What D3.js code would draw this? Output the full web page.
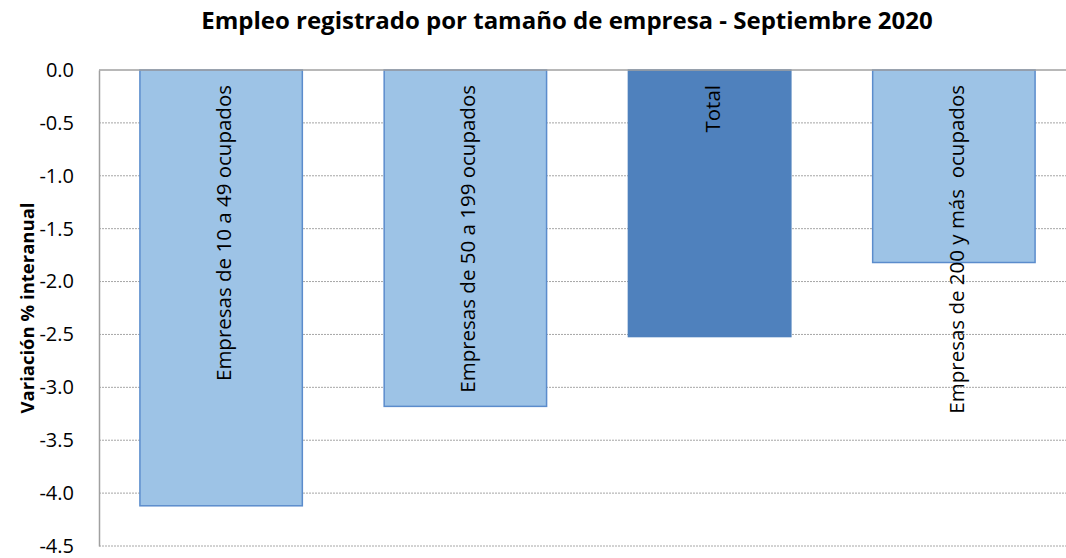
<!DOCTYPE html>
<html lang="es">
<head>
<meta charset="UTF-8">
<title>Empleo registrado por tamaño de empresa</title>
<script src="https://d3js.org/d3.v7.min.js"></script>
<style>
  body { margin: 0; background: #fff; }
  svg { display: block; font-family: "Open Sans", "Noto Sans", sans-serif; }
</style>
</head>
<body>
<script>
// Datos del gráfico
const categorias = ["Empresas de 10 a 49 ocupados", "Empresas de 50 a 199 ocupados", "Total", "Empresas de 200 y más  ocupados"];
const variacion = [-4.12, -3.18, -2.52, -1.82];
const esTotal = [false, false, true, false];
const ticksY = [0, -0.5, -1, -1.5, -2, -2.5, -3, -3.5, -4, -4.5];

const ancho = 1066, alto = 558;
const margen = { top: 70, right: -10, bottom: 12, left: 99 };

const svg = d3.select("body").append("svg")
    .attr("width", ancho)
    .attr("height", alto);

const y = d3.scaleLinear()
    .domain([0, -4.5])
    .range([margen.top, alto - margen.bottom]);

const x = d3.scaleBand()
    .domain(categorias)
    .range([margen.left, ancho - margen.right])
    .paddingInner(0.335)
    .paddingOuter(0.1675);

// líneas de la cuadrícula (punteadas)
svg.append("g")
    .selectAll("line")
    .data(ticksY.filter(d => d !== 0))
    .join("line")
    .attr("x1", margen.left)
    .attr("x2", ancho)
    .attr("y1", d => y(d))
    .attr("y2", d => y(d))
    .attr("stroke", "#a6a6a6")
    .attr("stroke-width", 1)
    .attr("stroke-dasharray", "2,1");

// eje Y
const ejeY = svg.append("g")
    .attr("transform", `translate(${margen.left},0)`)
    .call(d3.axisLeft(y).tickValues(ticksY).tickSize(0).tickPadding(25).tickFormat(d => d.toFixed(1)));
ejeY.select(".domain").attr("stroke", "#a0a0a0").attr("stroke-width", 1.5);
ejeY.selectAll("text")
    .attr("font-size", 20)
    .attr("fill", "#000")
    .attr("font-family", "Open Sans, sans-serif");

// barras
svg.append("g")
    .selectAll("rect")
    .data(categorias)
    .join("rect")
    .attr("x", d => x(d))
    .attr("width", x.bandwidth())
    .attr("y", y(0))
    .attr("height", (d, i) => y(variacion[i]) - y(0))
    .attr("fill", (d, i) => esTotal[i] ? "#4f81bd" : "#9dc3e6")
    .attr("stroke", (d, i) => esTotal[i] ? "#4f81bd" : "#5b8ccc")
    .attr("stroke-width", 1.5);

// eje de categorías en cero
svg.append("line")
    .attr("x1", margen.left)
    .attr("x2", ancho)
    .attr("y1", y(0))
    .attr("y2", y(0))
    .attr("stroke", "#a0a0a0")
    .attr("stroke-width", 1.5);

// etiquetas dentro de las barras (giradas)
svg.append("g")
    .selectAll("text")
    .data(categorias)
    .join("text")
    .attr("transform", d => `translate(${x(d) + x.bandwidth() / 2 + 2},${y(0) + 15}) rotate(-90)`)
    .attr("text-anchor", "end")
    .attr("dominant-baseline", "central")
    .attr("font-size", 20.5)
    .attr("fill", "#000")
    .style("white-space", "pre")
    .text(d => d);

// título
svg.append("text")
    .attr("x", 567)
    .attr("y", 29)
    .attr("text-anchor", "middle")
    .attr("font-size", 24)
    .attr("font-weight", "bold")
    .attr("fill", "#000")
    .text("Empleo registrado por tamaño de empresa - Septiembre 2020");

// título del eje Y
svg.append("text")
    .attr("transform", `translate(34,${(y(0) + y(-4.5)) / 2}) rotate(-90)`)
    .attr("text-anchor", "middle")
    .attr("font-size", 18.5)
    .attr("font-weight", "bold")
    .attr("fill", "#000")
    .text("Variación % interanual");
</script>
</body>
</html>
